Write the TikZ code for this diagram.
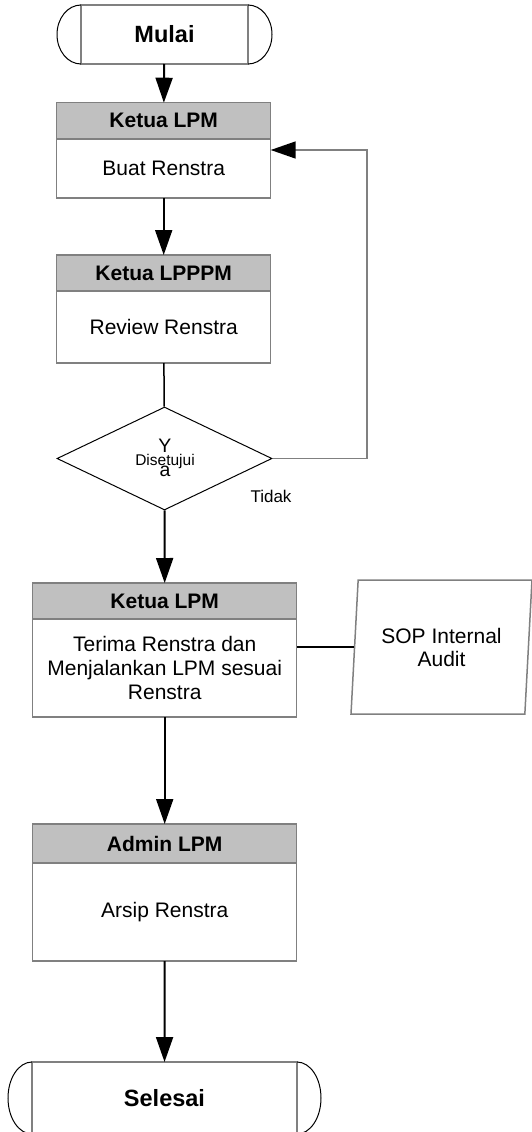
\documentclass[tikz,border=0pt]{standalone}
\usepackage{fontspec}
\setmainfont{Liberation Sans}
\usetikzlibrary{positioning,shapes.geometric,arrows.meta}
\definecolor{hdrgray}{RGB}{192,192,192}
\definecolor{lnegray}{RGB}{128,128,128}
\tikzset{
  hdr/.style={draw=lnegray,line width=1.5pt,fill=hdrgray,shape=rectangle,outer sep=0pt,inner sep=0pt,minimum height=36pt,font=\bfseries\fontsize{21}{24}\selectfont},
  body/.style={draw=lnegray,line width=1.5pt,fill=white,shape=rectangle,outer sep=0pt,inner sep=0pt,align=center,font=\fontsize{21}{24}\selectfont},
  term/.style={draw=lnegray,line width=1.5pt,shape=rectangle,outer sep=0pt,font=\bfseries\fontsize{23.5}{26}\selectfont},
  flow/.style={-{Triangle[length=25pt,width=17pt]},line width=2pt},
}
\begin{document}
\begin{tikzpicture}[x=1pt,y=-1pt]
\useasboundingbox (0,0) rectangle (532,1132);
\node[term,minimum width=167pt,minimum height=59pt](M) at (164.5,34.5){Mulai};
\draw[line width=1pt] (M.north west) arc[start angle=90,end angle=270,x radius=24pt,y radius=29.5pt];
\draw[line width=1pt] (M.north east) arc[start angle=90,end angle=-90,x radius=24pt,y radius=29.5pt];
\node[hdr,minimum width=214pt,minimum height=36.3pt](H1) at (163.7,120.85){Ketua LPM};
\node[body,minimum width=214pt,minimum height=59pt,below=0pt of H1](B1){Buat Renstra};
\draw[flow] (M) -- (H1);
\node[hdr,minimum width=214pt](H2) at (163.7,273){Ketua LPPPM};
\node[body,minimum width=214pt,minimum height=72pt,below=0pt of H2](B2){Review Renstra};
\draw[flow] (B1) -- (H2);
\node[diamond,draw,line width=1pt,inner sep=0pt,minimum width=215pt,minimum height=103pt](D) at (164.5,458.5){};
\draw[line width=1.5pt] (B2) -- (D);
\node[inner sep=0pt,font=\fontsize{19.5}{20}\selectfont](Y1) at (165,446){Y};
\node[inner sep=0pt,font=\fontsize{15.5}{16}\selectfont](DS) at (165,461){Disetujui};
\node[inner sep=0pt,font=\fontsize{19.5}{20}\selectfont](Y2) at (165,471){a};
\node[font=\fontsize{17}{18}\selectfont](T) at (271,496){Tidak};
% back to Ketua LPM
\coordinate (L) at (367,150);
\draw[draw=lnegray,line width=1.5pt,-{Triangle[length=25pt,width=17pt,black]}] (D.east) -| (L) -- (L -| B1.east);
\node[hdr,minimum width=264pt](H3) at (164.7,601){Ketua LPM};
\node[body,minimum width=264pt,minimum height=98pt,below=0pt of H3](B3){Terima Renstra dan\\Menjalankan LPM sesuai\\Renstra};
\draw[flow] (D) -- (H3);
\node[trapezium,draw=lnegray,line width=1.5pt,trapezium left angle=82.35,trapezium right angle=97.65,trapezium stretches=true,minimum width=181pt,minimum height=134pt,inner sep=0pt,align=center,font=\fontsize{21}{23}\selectfont](SOP) at (441.5,647){SOP Internal\\Audit};
\draw[line width=1.5pt] (SOP.west) -- (SOP.west -| B3.east);
\node[hdr,minimum width=264pt,minimum height=39pt](H4) at (164.7,843.5){Admin LPM};
\node[body,minimum width=264pt,minimum height=98pt,below=0pt of H4](B4){Arsip Renstra};
\draw[flow] (B3) -- (H4);
\node[term,minimum width=265pt,minimum height=72pt](S) at (164.5,1098){Selesai};
\draw[line width=1pt] (S.north west) arc[start angle=90,end angle=270,x radius=24pt,y radius=36pt];
\draw[line width=1pt] (S.north east) arc[start angle=90,end angle=-90,x radius=24pt,y radius=36pt];
\draw[flow] (B4) -- (S);
\end{tikzpicture}
\end{document}
